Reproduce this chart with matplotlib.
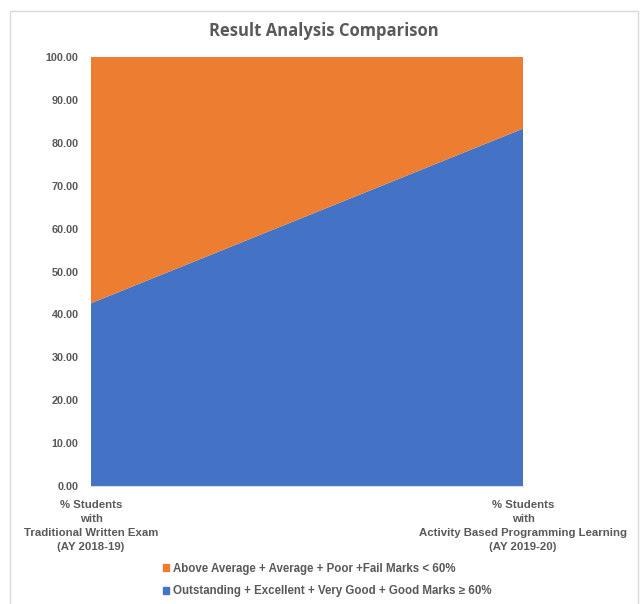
import matplotlib.pyplot as plt
from matplotlib.patches import Patch, Rectangle

# data
categories = ['% Students\nwith\nTraditional Written Exam\n(AY 2018-19)',
              '% Students\nwith\nActivity Based Programming Learning\n(AY 2019-20)']
good_marks = [42.6, 83.3]      # Outstanding + Excellent + Very Good + Good >= 60%
low_marks = [57.4, 16.7]       # Above Average + Average + Poor + Fail < 60%
labels = ['Above Average + Average + Poor +Fail Marks < 60%',
          'Outstanding + Excellent + Very Good + Good Marks \u2265 60%']

blue = '#4472C4'
orange = '#ED7D31'
txt = '#595959'

fig = plt.figure(figsize=(6.4, 6.04), dpi=100)
ax = fig.add_axes([91/640, 1-486/604, (523-91)/640, (486-57)/604])

x = list(range(len(categories)))
ax.stackplot(x, good_marks, low_marks, colors=[blue, orange], linewidth=0)

ax.set_xlim(0, 1)
ax.set_ylim(0, 100)
ax.set_yticks(range(0, 101, 10))
ax.set_yticklabels(['%.2f' % v for v in range(0, 101, 10)])
ax.set_xticks(x)
ax.set_xticklabels(categories, linespacing=1.5)
for lab in ax.get_yticklabels():
    lab.set_fontweight('bold')
    lab.set_fontsize(7.8)
    lab.set_color(txt)
    lab.set_family('Liberation Sans')
for lab in ax.get_xticklabels():
    lab.set_fontweight('bold')
    lab.set_fontsize(8.2)
    lab.set_color(txt)
    lab.set_family('Liberation Sans')
ax.tick_params(length=0, pad=9)
ax.tick_params(axis='x', pad=10)
for s in ['top', 'right', 'left']:
    ax.spines[s].set_visible(False)
ax.spines['bottom'].set_color('#D9D9D9')

fig.text(324/640, 1-31/604, 'Result Analysis Comparison', ha='center', va='center',
         fontsize=12, fontweight='bold', color=txt, family='Open Sans')

handles = [Patch(color=orange), Patch(color=blue)]
leg = fig.legend(handles, labels, loc='center', bbox_to_anchor=(327/640, 1-580/604),
                 ncol=1, frameon=False, handlelength=0.6, handleheight=0.6,
                 handletextpad=0.3, labelspacing=0.95,
                 prop={'family': 'Liberation Sans', 'weight': 'bold', 'size': 8.3})
for t in leg.get_texts():
    t.set_color(txt)

# chart border
fig.patches.append(Rectangle((10/640, -0.02), 628/640, 1.02-11/604, transform=fig.transFigure,
                             fill=False, edgecolor='#D9D9D9', linewidth=1))

fig.savefig('out.png', dpi=100)
